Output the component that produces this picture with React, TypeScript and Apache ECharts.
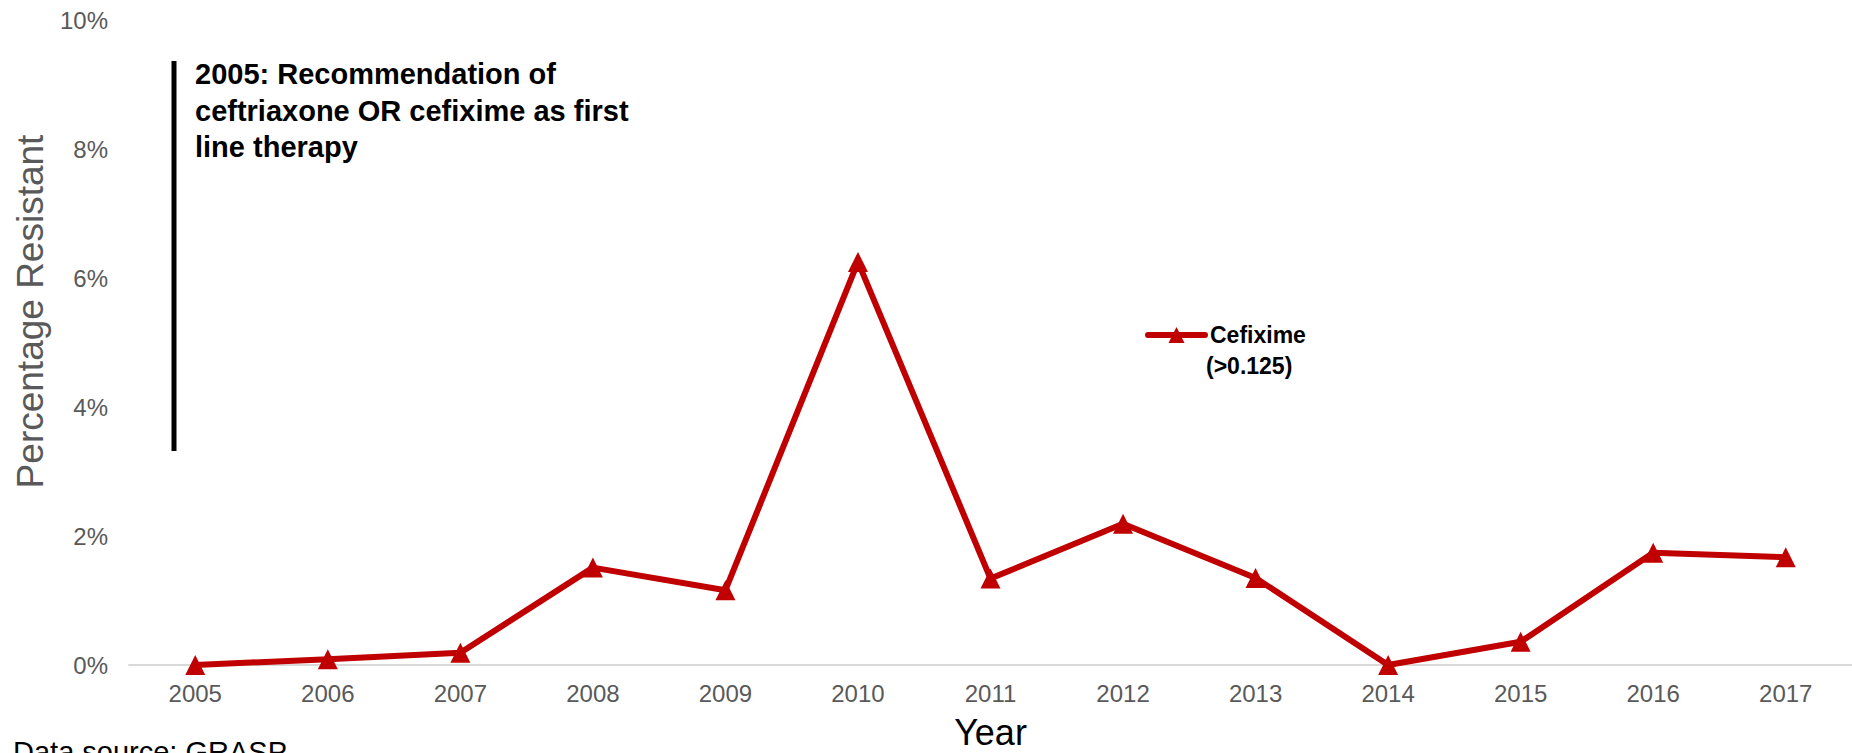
import React, { useEffect, useRef } from "react";
import * as echarts from "echarts";

const years = ["2005", "2006", "2007", "2008", "2009", "2010", "2011", "2012", "2013", "2014", "2015", "2016", "2017"];
const cefixime = [0, 0.09, 0.19, 1.51, 1.16, 6.25, 1.34, 2.19, 1.35, 0, 0.36, 1.74, 1.67];
const yMin = 0;
const yMax = 10;
const yInterval = 2;
const seriesName = "Cefixime (>0.125)";
const legendLine1 = "Cefixime";
const legendLine2 = "(>0.125)";
const annotationText = "2005: Recommendation of\nceftriaxone OR cefixime as first\nline therapy";
const sourceText = "Data source: GRASP";

const FONT = "'Liberation Sans', Arial, Helvetica, sans-serif";
const RED = "#C00000";
const GREY = "#595959";

export default function App() {
  const ref = useRef<HTMLDivElement>(null);
  useEffect(() => {
    if (!ref.current) return;
    const chart = echarts.init(ref.current, undefined, { renderer: "svg" });
    chart.setOption({
      animation: false,
      backgroundColor: "#ffffff",
      grid: { left: 129, right: 0, top: 20, bottom: 88, containLabel: false, outerBoundsMode: "none" },
      xAxis: {
        type: "category",
        data: years,
        boundaryGap: true,
        name: "Year",
        nameLocation: "middle",
        nameGap: 49,
        nameTextStyle: { fontFamily: FONT, fontSize: 36, color: "#000000" },
        axisLine: { show: true, lineStyle: { color: "#D9D9D9", width: 2 } },
        axisTick: { show: false },
        axisLabel: { fontFamily: FONT, fontSize: 24, color: GREY, margin: 16 },
        splitLine: { show: false },
      },
      yAxis: {
        type: "value",
        min: yMin,
        max: yMax,
        interval: yInterval,
        name: "Percentage Resistant",
        nameLocation: "middle",
        nameGap: 76,
        nameTextStyle: { fontFamily: FONT, fontSize: 37, color: GREY, padding: [0, 0, 0, 62] },
        axisLine: { show: false },
        axisTick: { show: false },
        splitLine: { show: false },
        axisLabel: { fontFamily: FONT, fontSize: 24, color: GREY, margin: 21, formatter: (v: number) => `${v}%` },
      },
      legend: {
        show: true,
        left: 1145,
        top: 322,
        padding: 0,
        orient: "vertical",
        itemWidth: 57,
        itemHeight: 20,
        data: [seriesName],
        formatter: () => legendLine1,
        lineStyle: { width: 6, color: RED, cap: "round" },
        textStyle: { fontFamily: FONT, fontSize: 23, fontWeight: "bold", color: "#000000", lineHeight: 26 },
      },
      series: [
        {
          name: seriesName,
          type: "line",
          data: cefixime,
          symbol: "triangle",
          symbolSize: 20,
          lineStyle: { color: RED, width: 6 },
          itemStyle: { color: RED },
          z: 3,
        },
      ],
      graphic: [
        {
          type: "line",
          shape: { x1: 174, y1: 61, x2: 174, y2: 451 },
          style: { stroke: "#000000", lineWidth: 5 },
        },
        {
          type: "text",
          x: 195,
          y: 56,
          style: {
            text: annotationText,
            fontFamily: FONT,
            fontSize: 29,
            fontWeight: "bold",
            fill: "#000000",
            lineHeight: 36.5,
            verticalAlign: "top",
            align: "left",
          },
        },
        {
          type: "text",
          x: 1206,
          y: 366,
          style: {
            text: legendLine2,
            fontFamily: FONT,
            fontSize: 23,
            fontWeight: "bold",
            fill: "#000000",
            verticalAlign: "middle",
            align: "left",
          },
        },
        {
          type: "text",
          x: 13,
          y: 752,
          style: {
            text: sourceText,
            fontFamily: FONT,
            fontSize: 29,
            fill: "#000000",
            verticalAlign: "middle",
            align: "left",
          },
        },
      ],
    });
    return () => chart.dispose();
  }, []);
  return (
    <div
      ref={ref}
      style={{ position: "fixed", left: 0, top: 0, width: 1852, height: 753, background: "#fff" }}
    />
  );
}
